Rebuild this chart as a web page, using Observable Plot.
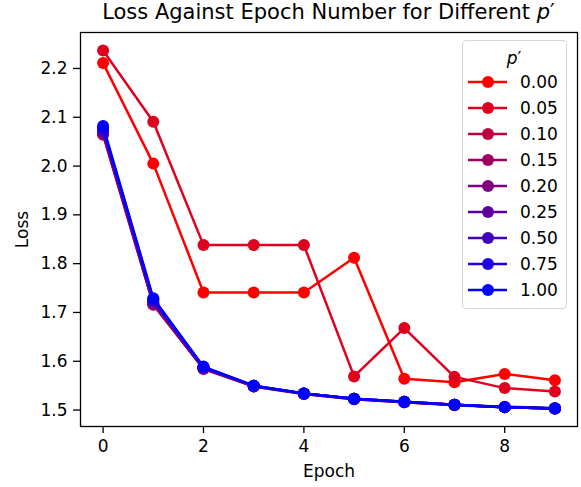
<!DOCTYPE html>
<html><head><meta charset="utf-8">
<script src="https://cdn.jsdelivr.net/npm/d3@7"></script>
<script src="https://cdn.jsdelivr.net/npm/@observablehq/plot@0.6"></script>
<style>
body{margin:0;background:#fff;font-family:"DejaVu Sans",sans-serif;}
#wrap{position:relative;width:581px;height:487px;background:#fff;}
#title{position:absolute;left:80px;width:497px;top:0;height:24px;line-height:24px;text-align:center;font-size:21px;color:#000;white-space:nowrap;}
#chart{position:absolute;left:0;top:24px;}
#legend{position:absolute;left:462px;top:40px;width:105px;height:269px;box-sizing:border-box;border:1px solid #d6d6d6;border-radius:4px;background:rgba(255,255,255,0.8);}
#legend svg{position:absolute;left:-1px;top:-1px;}
</style></head><body>
<div id="wrap">
<div id="title">Loss Against Epoch Number for Different <i>p</i>′</div>
<div id="chart"></div>
<div id="legend"></div>
</div>
<script>
const epochs = [0, 1, 2, 3, 4, 5, 6, 7, 8, 9];
const pLabels = ["0.00", "0.05", "0.10", "0.15", "0.20", "0.25", "0.50", "0.75", "1.00"];
const loss_000 = [2.211, 2.005, 1.741, 1.741, 1.741, 1.812, 1.564, 1.557, 1.574, 1.561];
const loss_005 = [2.237, 2.091, 1.838, 1.838, 1.838, 1.569, 1.668, 1.568, 1.545, 1.538];
const loss_010 = [2.064, 1.716, 1.584, 1.548, 1.533, 1.522, 1.516, 1.510, 1.506, 1.503];
const loss_015 = [2.066, 1.717, 1.585, 1.549, 1.533, 1.522, 1.516, 1.511, 1.506, 1.503];
const loss_020 = [2.068, 1.719, 1.585, 1.549, 1.534, 1.523, 1.516, 1.511, 1.506, 1.503];
const loss_025 = [2.070, 1.721, 1.586, 1.549, 1.534, 1.523, 1.517, 1.511, 1.507, 1.504];
const loss_050 = [2.074, 1.724, 1.587, 1.550, 1.534, 1.523, 1.517, 1.511, 1.506, 1.503];
const loss_075 = [2.078, 1.727, 1.588, 1.550, 1.534, 1.523, 1.517, 1.511, 1.506, 1.503];
const loss_100 = [2.082, 1.729, 1.589, 1.550, 1.534, 1.523, 1.517, 1.511, 1.506, 1.503];
const xTicks = [0, 2, 4, 6, 8];
const yTicks = [1.5, 1.6, 1.7, 1.8, 1.9, 2.0, 2.1, 2.2];

const allLoss = [loss_000, loss_005, loss_010, loss_015, loss_020, loss_025, loss_050, loss_075, loss_100];
const seriesColors = pLabels.map((_, i) => d3.rgb(Math.round(255 - 255 * i / 8), 0, Math.round(255 * i / 8)).formatHex());

const seriesRows = allLoss.map((vals, s) => epochs.map((e, j) => ({epoch: e, loss: vals[j], p: pLabels[s]})));

const marks = [];
seriesRows.forEach(rows => {
  marks.push(Plot.line(rows, {x: "epoch", y: "loss", stroke: "p", strokeWidth: 2.5, strokeLinejoin: "round"}));
  marks.push(Plot.dot(rows, {x: "epoch", y: "loss", fill: "p", r: 6}));
});

const chart = Plot.plot({
  width: 581,
  height: 463,
  marginLeft: 80,
  marginRight: 4,
  marginTop: 8,
  marginBottom: 61,
  style: {fontFamily: "DejaVu Sans", fontSize: "17px", color: "black", background: "white", overflow: "visible"},
  x: {domain: [-0.45, 9.45]},
  y: {domain: [1.4663, 2.2737]},
  color: {domain: pLabels, range: seriesColors},
  marks: [
    ...marks,
    Plot.axisX({ticks: xTicks, tickSize: 7, tickPadding: 6, strokeWidth: 1.3, label: "Epoch", labelAnchor: "center", labelArrow: false, labelOffset: 50}),
    Plot.axisY({ticks: yTicks, tickFormat: d3.format(".1f"), tickSize: 7, tickPadding: 6, strokeWidth: 1.3, label: "Loss", labelAnchor: "center", labelArrow: false, labelOffset: 65}),
    Plot.frame({stroke: "black", strokeWidth: 1.3})
  ]
});
document.getElementById("chart").appendChild(chart);

// legend
const lsvg = d3.select("#legend").append("svg").attr("width", 105).attr("height", 269)
  .style("font-family", "DejaVu Sans").style("font-size", "17px");
const lt = lsvg.append("text").attr("x", 52).attr("y", 18).attr("text-anchor", "middle").attr("dominant-baseline", "central");
lt.append("tspan").attr("font-style", "italic").text("p");
lt.append("tspan").text("′");
pLabels.forEach((lab, i) => {
  const g = lsvg.append("g").attr("transform", `translate(0,${42 + 26 * i})`);
  g.append("line").attr("x1", 6).attr("x2", 45).attr("stroke", seriesColors[i]).attr("stroke-width", 2.5);
  g.append("circle").attr("cx", 26).attr("r", 6).attr("fill", seriesColors[i]);
  g.append("text").attr("x", 58).attr("dominant-baseline", "central").attr("fill", "black").text(lab);
});
</script>
</body></html>
